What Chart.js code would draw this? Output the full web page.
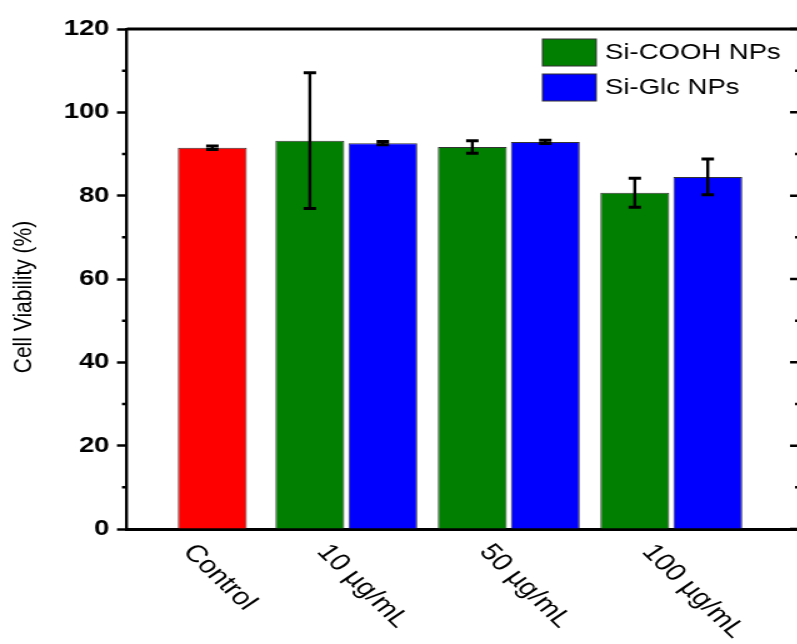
<!DOCTYPE html>
<html>
<head>
<meta charset="utf-8">
<script src="https://cdn.jsdelivr.net/npm/chart.js@4.4.1/dist/chart.umd.min.js"></script>
<style>
  html, body { margin: 0; padding: 0; background: #fff; overflow: hidden; }
  /* the source figure is stretched sideways, so the whole chart is too */
  #wrap { position: absolute; left: 0; top: 0; width: 645px; height: 644px; transform: scaleX(1.25); transform-origin: 0 0; }
</style>
</head>
<body>
<div id="wrap"><canvas id="viabilitas"></canvas></div>
<script>
const categories = ['Control', '10 µg/mL', '50 µg/mL', '100 µg/mL'];
const controlValues = [91.5, null, null, null];
const controlErrors = [0.4, null, null, null];
const coohValues = [null, 93.2, 91.7, 80.7];
const coohErrors = [null, 16.3, 1.5, 3.5];
const glcValues = [null, 92.6, 92.9, 84.5];
const glcErrors = [null, 0.4, 0.4, 4.3];
const yTicks = [0, 20, 40, 60, 80, 100, 120];
const yTitle = 'Cell Viability (%)';

const FONT = "'Liberation Sans', Arial, sans-serif";
const toPoints = arr => arr.map((v, i) => ({ x: i, y: v }));

// error bars on top of every bar
const errorBars = {
  id: 'errorBars',
  afterDatasetsDraw(chart) {
    const { ctx } = chart;
    const y = chart.scales.y;
    ctx.save();
    ctx.strokeStyle = '#000';
    chart.data.datasets.forEach((ds, di) => {
      const meta = chart.getDatasetMeta(di);
      meta.data.forEach((bar, i) => {
        const v = ds.data[i].y, e = ds.errors[i];
        if (v == null || e == null) return;
        const top = y.getPixelForValue(v + e), bot = y.getPixelForValue(v - e);
        ctx.lineWidth = 2.4;
        ctx.beginPath();
        ctx.moveTo(bar.x, top);
        ctx.lineTo(bar.x, bot);
        ctx.stroke();
        ctx.lineWidth = 3;
        ctx.beginPath();
        ctx.moveTo(bar.x - 5, top); ctx.lineTo(bar.x + 5, top);
        ctx.moveTo(bar.x - 5, bot); ctx.lineTo(bar.x + 5, bot);
        ctx.stroke();
      });
    });
    ctx.restore();
  }
};

// top/right frame, minor ticks, right-side ticks, y title
const frame = {
  id: 'frame',
  afterDraw(chart) {
    const { ctx, chartArea: a } = chart;
    const y = chart.scales.y;
    ctx.save();
    ctx.strokeStyle = '#000';
    ctx.lineWidth = 3;
    ctx.beginPath();
    ctx.moveTo(a.left, a.top); ctx.lineTo(a.right, a.top);
    ctx.stroke();
    ctx.lineWidth = 2.4;
    ctx.beginPath();
    ctx.moveTo(a.right, a.top); ctx.lineTo(a.right, a.bottom);
    ctx.stroke();
    ctx.lineWidth = 2.5;
    ctx.beginPath();
    yTicks.forEach((t, i) => {
      const py = y.getPixelForValue(t);
      ctx.moveTo(a.right - 9, py); ctx.lineTo(a.right, py);
      if (i < yTicks.length - 1) {
        const pm = y.getPixelForValue((t + yTicks[i + 1]) / 2);
        ctx.moveTo(a.left - 4, pm); ctx.lineTo(a.left, pm);
        ctx.moveTo(a.right - 5, pm); ctx.lineTo(a.right, pm);
      }
    });
    ctx.stroke();

    // axis title, sitting a little below the middle like the original
    ctx.fillStyle = '#000';
    ctx.font = '21px ' + FONT;
    ctx.textAlign = 'center';
    ctx.textBaseline = 'middle';
    ctx.translate(19.5, (a.top + a.bottom) / 2 + 18);
    ctx.rotate(-Math.PI / 2);
    ctx.fillText(yTitle, 0, 0);
    ctx.restore();
  }
};

// slanted category names under the bars
const xLabels = {
  id: 'xLabels',
  afterDraw(chart) {
    const { ctx, chartArea: a } = chart;
    ctx.save();
    ctx.fillStyle = '#000';
    ctx.font = '24px ' + FONT;
    ctx.textAlign = 'left';
    ctx.textBaseline = 'top';
    categories.forEach((c, i) => {
      const xs = [];
      chart.data.datasets.forEach((ds, di) => {
        if (ds.data[i].y != null) xs.push(chart.getDatasetMeta(di).data[i].x);
      });
      const cx = xs.reduce((s, v) => s + v, 0) / xs.length;
      ctx.save();
      ctx.translate(cx - 10, a.bottom + 11);
      ctx.rotate(50 * Math.PI / 180);
      ctx.fillText(c, 0, 0);
      ctx.restore();
    });
    ctx.restore();
  }
};

// legend inside the plot, top right
const legendBox = {
  id: 'legendBox',
  afterDraw(chart) {
    const { ctx, chartArea: a } = chart;
    ctx.save();
    ctx.font = '22px ' + FONT;
    ctx.textBaseline = 'middle';
    let row = 0;
    chart.data.datasets.forEach(ds => {
      if (ds.showInLegend === false) return;
      const bx = a.right - 207, by = a.top + 10 + row * 35;
      ctx.fillStyle = ds.backgroundColor;
      ctx.fillRect(bx, by, 43, 27);
      ctx.strokeStyle = '#333';
      ctx.lineWidth = 1;
      ctx.strokeRect(bx, by, 43, 27);
      ctx.fillStyle = '#000';
      ctx.fillText(ds.label, bx + 50, by + 14);
      row++;
    });
    ctx.restore();
  }
};

const ctx = document.getElementById('viabilitas').getContext('2d');
new Chart(ctx, {
  type: 'bar',
  data: {
    datasets: [
      {
        label: 'Si-COOH NPs',
        data: toPoints(coohValues),
        errors: coohErrors,
        backgroundColor: '#007f00',
        borderColor: '#333',
        borderWidth: 1,
        skipNull: true,
        categoryPercentage: 0.898,
        barPercentage: 0.945
      },
      {
        label: 'Si-Glc NPs',
        data: toPoints(glcValues),
        errors: glcErrors,
        backgroundColor: '#0000ff',
        borderColor: '#333',
        borderWidth: 1,
        skipNull: true,
        categoryPercentage: 0.898,
        barPercentage: 0.945
      },
      {
        // control sits in the last of three slots, which nudges it right
        label: 'Control',
        data: toPoints(controlValues),
        errors: controlErrors,
        backgroundColor: '#ff0000',
        borderColor: '#333',
        borderWidth: 1,
        skipNull: false,
        showInLegend: false,
        categoryPercentage: 0.526,
        barPercentage: 2.42
      }
    ]
  },
  options: {
    responsive: true,
    maintainAspectRatio: false,
    animation: false,
    layout: { padding: { top: 29, right: 4, bottom: 0, left: 0 } },
    plugins: {
      legend: { display: false },
      tooltip: { enabled: false }
    },
    scales: {
      x: {
        type: 'linear',
        offset: false,
        min: -0.35,
        max: 3.8,
        afterBuildTicks: s => { s.ticks = categories.map((c, i) => ({ value: i })); },
        afterFit: s => { s.height = 115; },
        grid: { display: false },
        ticks: { display: false },
        border: { color: '#000', width: 3 }
      },
      y: {
        min: 0,
        max: 120,
        afterBuildTicks: s => { s.ticks = yTicks.map(v => ({ value: v })); },
        afterFit: s => { s.width = 101.6; },
        border: { color: '#000', width: 2.4 },
        grid: { drawOnChartArea: false, tickLength: 8, tickWidth: 2.5, tickColor: '#000' },
        ticks: { color: '#000', padding: 6, font: { family: FONT, size: 22, weight: 'bold' } }
      }
    }
  },
  plugins: [errorBars, frame, xLabels, legendBox]
});
</script>
</body>
</html>
